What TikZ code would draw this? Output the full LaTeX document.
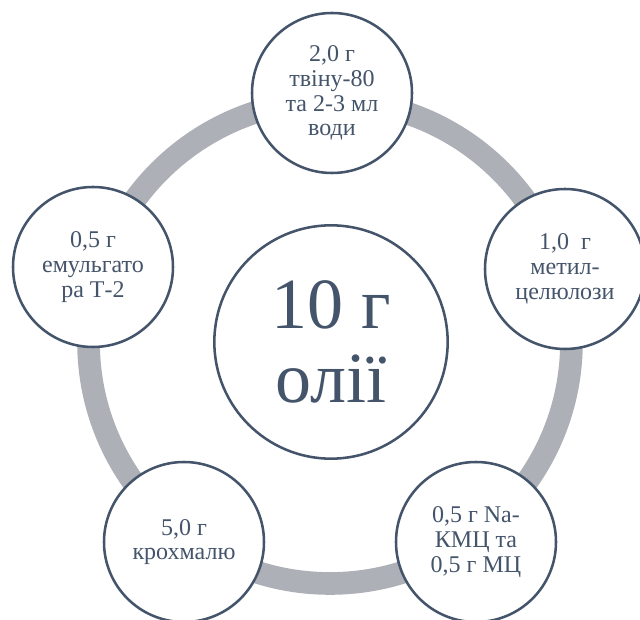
\documentclass[tikz,border=0pt]{standalone}
\usepackage{fontspec}
\setmainfont{Liberation Serif}
\definecolor{txt}{HTML}{44546A}
\definecolor{ringgray}{HTML}{ADB0B7}
\begin{document}
\begin{tikzpicture}[x=0.75pt,y=-0.75pt,
  outer/.style={circle, draw=txt, line width=1.9pt, fill=white, minimum size=120pt, inner sep=0pt, text=txt, font=\fontsize{18}{18.6}\selectfont, align=center},
  hub/.style={circle, draw=txt, line width=1.9pt, fill=white, minimum size=175pt, inner sep=0pt, text=txt, font=\fontsize{54}{56}\selectfont, align=center}]
\useasboundingbox (0,0) rectangle (640,620);
\clip (0,0) rectangle (640,620);
\draw[ringgray, line width=17pt] (330,342) circle[radius=181.1pt];
\node[hub] (c) at (331,342) {10 г\\олії};
\node[outer] (t) at (332,93) {2,0 г\\твіну-80\\та 2-3 мл\\води};
\node[outer] (r) at (565,269) {1,0~~г\\метил-\\целюлози};
\node[outer] (br) at (476,542) {0,5 г Na-\\КМЦ та\\0,5 г МЦ};
\node[outer] (bl) at (184,542) {5,0 г\\крохмалю};
\node[outer] (l) at (93,267) {0,5 г\\емульгато\\ра Т-2};
\end{tikzpicture}
\end{document}
